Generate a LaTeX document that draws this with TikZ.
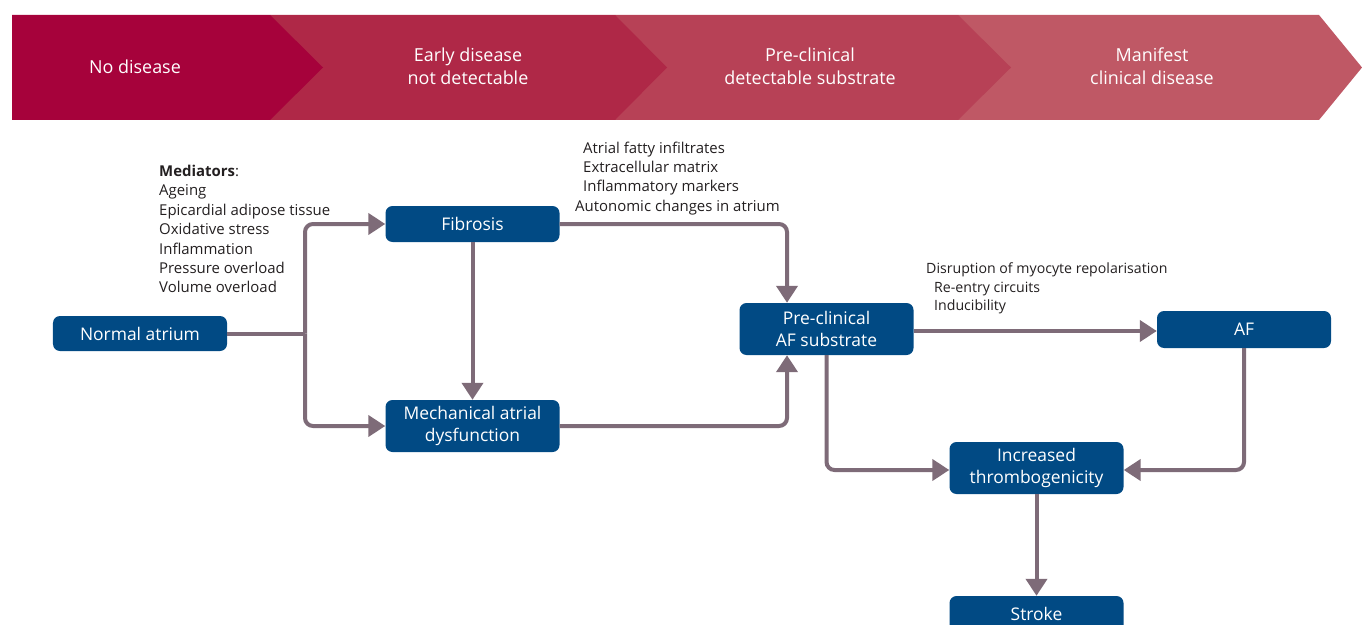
\documentclass[tikz,border=0pt]{standalone}
\usepackage{fontspec}
\setmainfont{Open Sans}
\usetikzlibrary{arrows.meta,calc}
\definecolor{nodeblue}{HTML}{014A84}
\definecolor{conncol}{HTML}{7E6B78}
\definecolor{chevA}{HTML}{A6023B}
\definecolor{chevB}{HTML}{AF2847}
\definecolor{chevC}{HTML}{B74156}
\definecolor{chevD}{HTML}{BF5865}
\definecolor{txtgray}{HTML}{231F20}
\tikzset{
  box/.style={fill=nodeblue, rounded corners=7bp, text=white, align=center,
    font=\fontsize{17.5}{22}\selectfont, minimum width=174bp, inner sep=0pt},
  conn/.style={draw=conncol, line width=4bp, rounded corners=8bp,
    -{Triangle[length=17bp,width=21bp]}},
  connplain/.style={draw=conncol, line width=4bp},
  bantext/.style={text=white, align=center, font=\fontsize{18}{23}\selectfont},
  small/.style={text=txtgray, anchor=base west, inner sep=0pt,
    font=\fontsize{15}{19}\selectfont},
  smaller/.style={small, font=\fontsize{14.2}{19}\selectfont},
}
\begin{document}
\begin{tikzpicture}[x=1bp,y=-1bp]
\useasboundingbox (0,0) rectangle (1362,625);
% banner
\fill[chevD] (958,15) -- (1319,15) -- (1362,67.5) -- (1319,120) -- (958,120) -- cycle;
\fill[chevC] (615,15) -- (958,15) -- (1011,67.5) -- (958,120) -- (615,120) -- cycle;
\fill[chevB] (270,15) -- (615,15) -- (667,67.5) -- (615,120) -- (270,120) -- cycle;
\fill[chevA] (12,15) -- (270,15) -- (323,67.5) -- (270,120) -- (12,120) -- cycle;
\node[bantext] (b1) at (135,67) {No disease};
\node[bantext] (b2) at (468,66.5) {Early disease\\not detectable};
\node[bantext] (b3) at (810,66.5) {Pre-clinical\\detectable substrate};
\node[bantext] (b4) at (1152,66.5) {Manifest\\clinical disease};
% nodes
\node[box, minimum height=35bp] (na) at (140,333.5) {Normal atrium};
\node[box, minimum height=36bp] (fib) at (472.5,224) {Fibrosis};
\node[box, minimum height=52bp] (mech) at (472.5,426) {Mechanical atrial\\dysfunction};
\node[box, minimum height=52bp] (precl) at (826.5,329) {Pre-clinical\\AF substrate};
\node[box, minimum height=37bp] (af) at (1244,329.5) {AF};
\node[box, minimum height=52bp] (thr) at (1036.5,468) {Increased\\thrombogenicity};
\node[box, minimum height=36bp] (stroke) at (1036.5,614) {Stroke};
% texts
\node[small] (m0) at (159,177) {\textbf{Mediators}:};
\node[small] (m1) at (159,196) {Ageing};
\node[small] (m2) at (159,215) {Epicardial adipose tissue};
\node[small] (m3) at (159,234) {Oxidative stress};
\node[small] (m4) at (159,254) {Inflammation};
\node[small] (m5) at (159,273) {Pressure overload};
\node[small] (m6) at (159,292) {Volume overload};
\node[small] (t1) at (583,154) {Atrial fatty infiltrates};
\node[small] (t2) at (583,173) {Extracellular matrix};
\node[small] (t3) at (583,192) {Inflammatory markers};
\node[small] (t4) at (575,211) {Autonomic changes in atrium};
\node[smaller] (r1) at (926,273) {Disruption of myocyte repolarisation};
\node[smaller] (r2) at (934,292) {Re-entry circuits};
\node[smaller] (r3) at (934,310) {Inducibility};
% connectors
\coordinate (split) at (305,333.5);
\draw[connplain] (na.east) -- (split);
\draw[conn] (split) |- (fib.west);
\draw[conn] (split) |- (mech.west);
\draw[conn] (fib.south) -- (mech.north);
\draw[conn] (fib.east) -| ([xshift=-39.5bp]precl.north);
\draw[conn] (mech.east) -| ([xshift=-39.5bp]precl.south);
\draw[conn] ([yshift=-2bp]precl.east) -- ([yshift=-2bp]precl.east -| af.west);
\draw[conn] (precl.south) |- ([yshift=-2bp]thr.west);
\draw[conn] (af.south) |- ([yshift=-2bp]thr.east);
\draw[conn] (thr.south) -- (stroke.north);
\end{tikzpicture}
\end{document}
